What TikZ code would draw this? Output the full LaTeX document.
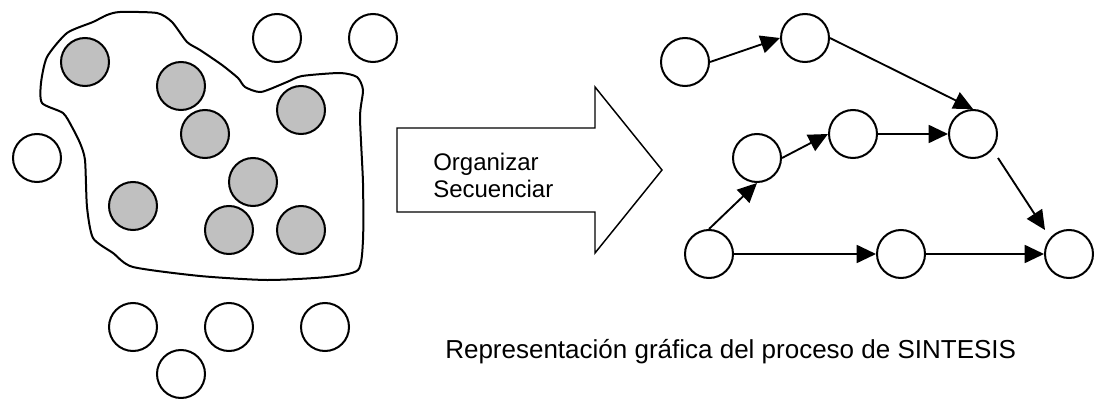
\documentclass[tikz,border=0pt]{standalone}
\usepackage{fontspec}
\setmainfont{Liberation Sans}
\usetikzlibrary{arrows.meta,calc}
\begin{document}
\begin{tikzpicture}[x=0.75pt,y=-0.75pt,
  ball/.style={circle,draw=black,line width=1.5pt,minimum size=36pt,inner sep=0pt,fill=white},
  grayball/.style={ball,fill={rgb,255:red,192;green,192;blue,192}},
  conn/.style={line width=1.4pt,-{Triangle[length=14.5pt,width=13.5pt]}},
  lbl/.style={inner sep=0pt,anchor=base west,font=\fontsize{18pt}{22pt}\selectfont}]
\useasboundingbox (0,0) rectangle (1099,399);
% blob
\draw[line width=1.5pt,fill=white] plot[smooth cycle,tension=0.4] coordinates {
 (120,12) (157,13) (172,22) (187,42) (200,50) (222,65) (238,78) (245,87) (261,92)
 (287,82) (302,76) (340,73) (357,77) (363,90) (360,117) (363,183) (363,240) (358,270)
 (327,277) (267,280) (200,276) (133,267) (113,253) (93,238) (87,207) (85,160) (80,143)
 (72,127) (63,113) (42,103) (41,83) (47,57) (67,33) (93,22) (107,15)};
% gray balls
\node[grayball] (g1) at (85,62) {};
\node[grayball] (g2) at (181,86) {};
\node[grayball] (g3) at (205,134) {};
\node[grayball] (g4) at (301,110) {};
\node[grayball] (g5) at (253,182) {};
\node[grayball] (g6) at (133,206) {};
\node[grayball] (g7) at (229,230) {};
\node[grayball] (g8) at (301,230) {};
% loose white balls
\node[ball] (w1) at (277,38) {};
\node[ball] (w2) at (373,38) {};
\node[ball] (w3) at (37,158) {};
\node[ball] (w4) at (133,327) {};
\node[ball] (w5) at (229,327) {};
\node[ball] (w6) at (325,327) {};
\node[ball] (w7) at (181,374) {};
% big arrow
\draw[line width=1.1pt,line join=miter] (397,128) -- (595,128) -- (595,87) -- (662,170) -- (595,253) -- (595,212) -- (397,212) -- cycle;
\node[lbl] (t1) at (433,171) {Organizar};
\node[lbl] (t2) at (433,198) {Secuenciar};
% right graph
\node[ball] (A) at (685,62) {};
\node[ball] (B) at (805,38) {};
\node[ball] (C) at (973,134) {};
\node[ball] (D) at (757,158) {};
\node[ball] (E) at (853,134) {};
\node[ball] (F) at (709,254) {};
\node[ball] (G) at (901,254) {};
\node[ball] (H) at (1069,254) {};
\draw[conn] (A.east) -- (B.west);
\draw[conn] (B.east) -- (C.north);
\draw[conn] (D.east) -- (E.west);
\draw[conn] (E.east) -- (C.west);
\draw[conn] (F.north) -- (D.south);
\draw[conn] (F.east) -- (G.west);
\draw[conn] (G.east) -- (H.west);
\draw[conn] ($(C)+(25,24)$) -- ($(H)+(-24,-24)$);
% caption
\node[lbl,font=\fontsize{19.5pt}{24pt}\selectfont] (cap) at (445,358) {Representación gráfica del proceso de SINTESIS};
\end{tikzpicture}
\end{document}
